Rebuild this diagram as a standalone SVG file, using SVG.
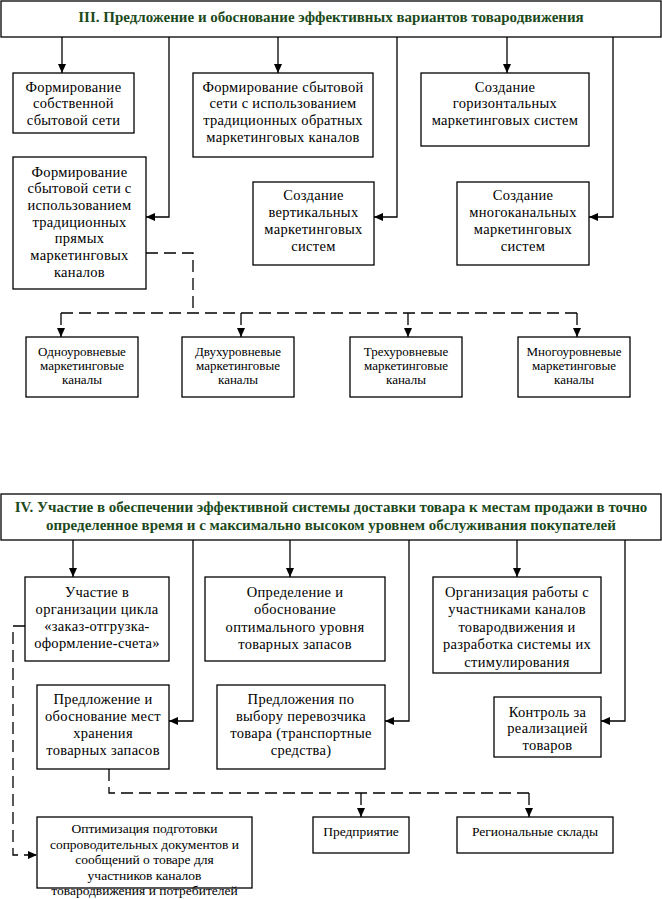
<svg xmlns="http://www.w3.org/2000/svg" width="662" height="899" viewBox="0 0 662 899">
<style>
.box{fill:#fff;stroke:#000;stroke-width:1.3}
.t{font-family:"Liberation Serif","Times New Roman",serif;font-size:14.5px;letter-spacing:0.3px;fill:#000;text-anchor:middle}
.o{font-family:"Liberation Serif","Times New Roman",serif;font-size:13.5px;fill:#000;text-anchor:middle}
.s{font-family:"Liberation Serif","Times New Roman",serif;font-size:13px;fill:#000;text-anchor:middle}
.m{font-family:"Liberation Serif","Times New Roman",serif;font-size:13.5px;fill:#000;text-anchor:middle}
.h{font-family:"Liberation Serif","Times New Roman",serif;font-size:15px;font-weight:bold;fill:#1c4a1c;text-anchor:middle}
.ln{fill:none;stroke:#000;stroke-width:1.3}
.dl{fill:none;stroke:#000;stroke-width:1.3;stroke-dasharray:12 6}
</style>
<defs>
<marker id="ar" markerUnits="userSpaceOnUse" markerWidth="9" markerHeight="8" refX="9" refY="4" orient="auto">
<path d="M0,0 L9,4 L0,8 z" fill="#000"/>
</marker>
</defs>
<rect width="662" height="899" fill="#fff"/>
<g id="connectors">
<path class="ln" d="M62,37 V73" marker-end="url(#ar)"/>
<path class="ln" d="M169,37 V217 H146" marker-end="url(#ar)"/>
<path class="ln" d="M278,37 V73" marker-end="url(#ar)"/>
<path class="ln" d="M397,37 V217 H374" marker-end="url(#ar)"/>
<path class="ln" d="M507,37 V73" marker-end="url(#ar)"/>
<path class="ln" d="M613,37 V217 H589" marker-end="url(#ar)"/>
<path class="dl" d="M146,253 H193 V313"/>
<path class="dl" d="M61,313 H577"/>
<path class="dl" d="M61,313 V337" marker-end="url(#ar)"/>
<path class="dl" d="M241,313 V337" marker-end="url(#ar)"/>
<path class="dl" d="M408,313 V337" marker-end="url(#ar)"/>
<path class="dl" d="M577,313 V337" marker-end="url(#ar)"/>
<path class="ln" d="M73,540 V577" marker-end="url(#ar)"/>
<path class="ln" d="M193,540 V721 H169" marker-end="url(#ar)"/>
<path class="ln" d="M290,540 V577" marker-end="url(#ar)"/>
<path class="ln" d="M409,540 V721 H385" marker-end="url(#ar)"/>
<path class="ln" d="M517,540 V577" marker-end="url(#ar)"/>
<path class="ln" d="M625,540 V721 H601" marker-end="url(#ar)"/>
<path class="dl" d="M25,626 H13 V855 H37" marker-end="url(#ar)"/>
<path class="dl" d="M109,769 V793 H529"/>
<path class="dl" d="M361,793 V817" marker-end="url(#ar)"/>
<path class="dl" d="M529,793 V817" marker-end="url(#ar)"/>
</g>
<g id="header3">
<rect class="box" x="1" y="1" width="660" height="36"/>
<text class="h" x="331" y="22">III. Предложение и обоснование эффективных вариантов товародвижения</text>
</g>
<g id="n1">
<rect class="box" x="13" y="73" width="121" height="60"/>
<text class="t" x="73.5" y="92">Формирование</text>
<text class="t" x="73.5" y="108">собственной</text>
<text class="t" x="73.5" y="125">сбытовой сети</text>
</g>
<g id="n2">
<rect class="box" x="193" y="73" width="180" height="84"/>
<text class="t" x="283" y="92">Формирование сбытовой</text>
<text class="t" x="283" y="108">сети с использованием</text>
<text class="t" x="283" y="125">традиционных обратных</text>
<text class="t" x="283" y="142">маркетинговых каналов</text>
</g>
<g id="n3">
<rect class="box" x="421" y="73" width="168" height="73"/>
<text class="t" x="505" y="92">Создание</text>
<text class="t" x="505" y="108">горизонтальных</text>
<text class="t" x="505" y="125">маркетинговых систем</text>
</g>
<g id="n4">
<rect class="box" x="13" y="157" width="133" height="132"/>
<text class="t" x="79.5" y="177">Формирование</text>
<text class="t" x="79.5" y="193">сбытовой сети с</text>
<text class="t" x="79.5" y="210">использованием</text>
<text class="t" x="79.5" y="227">традиционных</text>
<text class="t" x="79.5" y="243">прямых</text>
<text class="t" x="79.5" y="260">маркетинговых</text>
<text class="t" x="79.5" y="277">каналов</text>
</g>
<g id="n5">
<rect class="box" x="253" y="182" width="121" height="83"/>
<text class="t" x="313.5" y="200">Создание</text>
<text class="t" x="313.5" y="217">вертикальных</text>
<text class="t" x="313.5" y="234">маркетинговых</text>
<text class="t" x="313.5" y="251">систем</text>
</g>
<g id="n6">
<rect class="box" x="457" y="182" width="132" height="83"/>
<text class="t" x="523" y="200">Создание</text>
<text class="t" x="523" y="217">многоканальных</text>
<text class="t" x="523" y="234">маркетинговых</text>
<text class="t" x="523" y="251">систем</text>
</g>
<g id="n7">
<rect class="box" x="26" y="337" width="112" height="60"/>
<text class="s" x="82" y="356">Одноуровневые</text>
<text class="s" x="82" y="370">маркетинговые</text>
<text class="s" x="82" y="384">каналы</text>
</g>
<g id="n8">
<rect class="box" x="182" y="337" width="112" height="60"/>
<text class="s" x="238" y="356">Двухуровневые</text>
<text class="s" x="238" y="370">маркетинговые</text>
<text class="s" x="238" y="384">каналы</text>
</g>
<g id="n9">
<rect class="box" x="350" y="337" width="112" height="60"/>
<text class="s" x="406" y="356">Трехуровневые</text>
<text class="s" x="406" y="370">маркетинговые</text>
<text class="s" x="406" y="384">каналы</text>
</g>
<g id="n10">
<rect class="box" x="518" y="337" width="112" height="60"/>
<text class="s" x="574" y="356">Многоуровневые</text>
<text class="s" x="574" y="370">маркетинговые</text>
<text class="s" x="574" y="384">каналы</text>
</g>
<g id="header4">
<rect class="box" x="1" y="494" width="660" height="46"/>
<text class="h" x="331" y="512">IV. Участие в обеспечении эффективной системы доставки товара к местам продажи в точно</text>
<text class="h" x="331" y="530">определенное время и с максимально высоком уровнем обслуживания покупателей</text>
</g>
<g id="n11">
<rect class="box" x="25" y="577" width="144" height="84"/>
<text class="t" x="97" y="597">Участие в</text>
<text class="t" x="97" y="614">организации цикла</text>
<text class="t" x="97" y="631">«заказ-отгрузка-</text>
<text class="t" x="97" y="648">оформление-счета»</text>
</g>
<g id="n12">
<rect class="box" x="205" y="577" width="180" height="84"/>
<text class="t" x="295" y="597">Определение и</text>
<text class="t" x="295" y="614">обоснование</text>
<text class="t" x="295" y="632">оптимального уровня</text>
<text class="t" x="295" y="649">товарных запасов</text>
</g>
<g id="n13">
<rect class="box" x="433" y="577" width="168" height="96"/>
<text class="t" x="517" y="597">Организация работы с</text>
<text class="t" x="517" y="614">участниками каналов</text>
<text class="t" x="517" y="632">товародвижения и</text>
<text class="t" x="517" y="649">разработка системы их</text>
<text class="t" x="517" y="667">стимулирования</text>
</g>
<g id="n14">
<rect class="box" x="37" y="685" width="132" height="84"/>
<text class="t" x="103" y="704">Предложение и</text>
<text class="t" x="103" y="721">обоснование мест</text>
<text class="t" x="103" y="738">хранения</text>
<text class="t" x="103" y="755">товарных запасов</text>
</g>
<g id="n15">
<rect class="box" x="217" y="685" width="168" height="84"/>
<text class="t" x="301" y="704">Предложения по</text>
<text class="t" x="301" y="721">выбору перевозчика</text>
<text class="t" x="301" y="738">товара (транспортные</text>
<text class="t" x="301" y="755">средства)</text>
</g>
<g id="n16">
<rect class="box" x="494" y="697" width="107" height="60"/>
<text class="t" x="547.5" y="717">Контроль за</text>
<text class="t" x="547.5" y="733">реализацией</text>
<text class="t" x="547.5" y="750">товаров</text>
</g>
<g id="n17">
<rect class="box" x="37" y="817" width="215" height="71"/>
<text class="o" x="144.5" y="833">Оптимизация подготовки</text>
<text class="o" x="144.5" y="848.5">сопроводительных документов и</text>
<text class="o" x="144.5" y="864">сообщений о товаре для</text>
<text class="o" x="144.5" y="879.5">участников каналов</text>
<text class="o" x="144.5" y="895">товародвижения и потребителей</text>
</g>
<g id="n18">
<rect class="box" x="313" y="817" width="96" height="36"/>
<text class="m" x="361" y="836">Предприятие</text>
</g>
<g id="n19">
<rect class="box" x="457" y="817" width="156" height="36"/>
<text class="m" x="535" y="836">Региональные склады</text>
</g>
</svg>
